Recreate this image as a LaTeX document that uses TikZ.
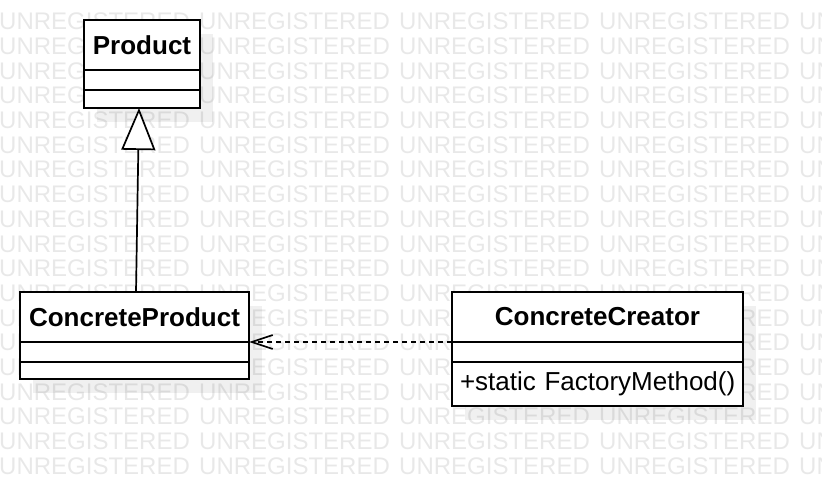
\documentclass[tikz,border=0pt]{standalone}
\usepackage{fontspec}
\setmainfont{Liberation Sans}
\usetikzlibrary{arrows.meta,positioning,shadows}

\begin{document}
\begin{tikzpicture}[x=1pt, y=-1pt,
    watermark/.style={text=gray!18, inner sep=0pt, anchor=west,
        font=\fontsize{24}{28}\selectfont},
    umlbox/.style={draw, line width=2pt, fill=white, inner sep=0pt, outer sep=0pt,
        drop shadow={shadow xshift=13pt, shadow yshift=-14pt, fill=black, opacity=0.06}},
    classname/.style={umlbox, minimum height=50pt, font=\fontsize{26}{30}\selectfont\bfseries},
    compartment/.style={umlbox, font=\fontsize{26}{30}\selectfont}]
    \useasboundingbox (0,0) rectangle (822,486);

    % watermark behind everything
    \begin{scope}
        \clip (0,0) rectangle (822,486);
        \foreach \row in {0,...,18}
            \foreach \col in {0,...,4}
                \node[watermark] at (200*\col-1, 21.5+24.7*\row) {UNREGISTERED};
    \end{scope}

    % Product
    \node[classname, minimum width=116pt] (product) at (142,45) {Product};
    \node[compartment, minimum width=116pt, minimum height=20pt, below=0pt of product] (productattr) {};
    \node[compartment, minimum width=116pt, minimum height=18pt, below=0pt of productattr] (productops) {};

    % ConcreteProduct
    \node[classname, minimum width=229pt] (cproduct) at (134.5,317) {ConcreteProduct};
    \node[compartment, minimum width=229pt, minimum height=20pt, below=0pt of cproduct] (cproductattr) {};
    \node[compartment, minimum width=229pt, minimum height=17pt, below=0pt of cproductattr] (cproductops) {};

    % ConcreteCreator
    \node[classname, minimum width=291pt] (ccreator) at (597.5,317) {ConcreteCreator};
    \node[compartment, minimum width=291pt, minimum height=20pt, below=0pt of ccreator] (ccreatorattr) {};
    \node[compartment, minimum height=44pt, inner xsep=8pt, text width=275pt, align=left,
        below=0pt of ccreatorattr] (ccreatorops) {\mbox{+static FactoryMethod()}};

    % generalization
    \draw[line width=1.7pt, -{Triangle[length=42pt, width=34pt, fill=white]}]
        ([xshift=1.5pt]cproduct.north) -- ([xshift=-3pt]productops.south);

    % dependency
    \draw[line width=1.7pt, dash pattern=on 5pt off 4pt, -{Straight Barb[length=21pt, width=14pt]}]
        (ccreator.south west) -- (cproduct.south east);
\end{tikzpicture}
\end{document}
